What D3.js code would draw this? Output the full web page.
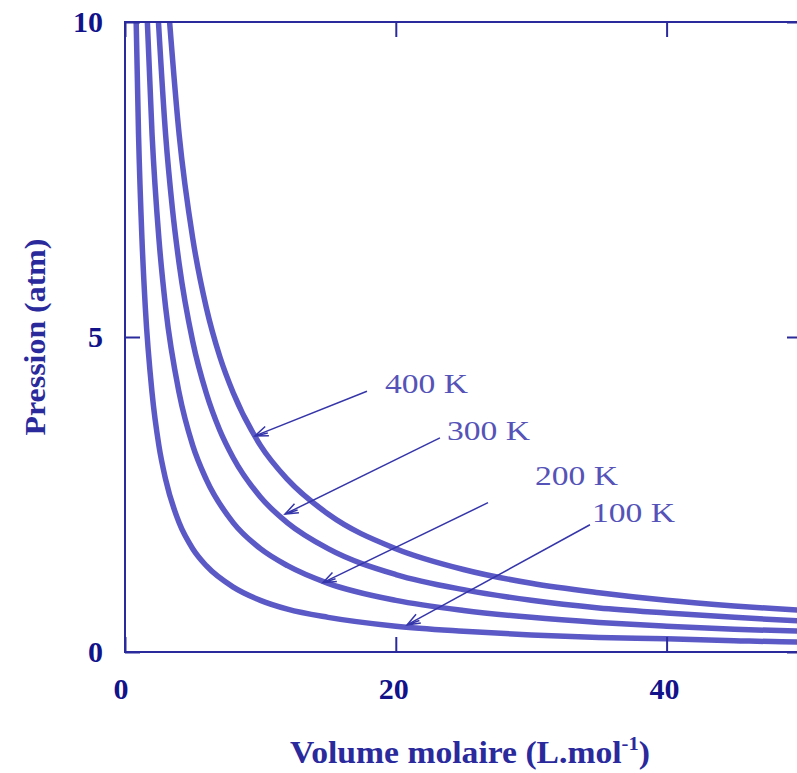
<!DOCTYPE html>
<html>
<head>
<meta charset="utf-8">
<script src="https://cdn.jsdelivr.net/npm/d3@7"></script>
<style>
  html, body { margin: 0; padding: 0; background: #fff; }
  svg { display: block; }
</style>
</head>
<body>
<svg id="chart" width="797" height="773"></svg>
<script>
// ---- Data ----
const temperatures = ["100 K", "200 K", "300 K", "400 K"];

const vol100 = [0.8, 1, 1.25, 1.5, 2, 2.5, 3, 4, 5, 6, 8, 10, 12, 15, 20, 25, 30, 35, 40, 45, 50, 52];
const pres100 = [10.26, 8.21, 6.57, 5.47, 4.11, 3.28, 2.74, 2.05, 1.64, 1.37, 1.03, 0.82, 0.68, 0.55, 0.41, 0.33, 0.27, 0.23, 0.21, 0.18, 0.16, 0.16];

const vol200 = [1.6, 2, 2.5, 3, 4, 5, 6, 8, 10, 12, 15, 20, 25, 30, 35, 40, 45, 50, 52];
const pres200 = [10.26, 8.21, 6.57, 5.47, 4.11, 3.28, 2.74, 2.05, 1.64, 1.37, 1.09, 0.82, 0.66, 0.55, 0.47, 0.41, 0.36, 0.33, 0.32];

const vol300 = [2.4, 3, 3.5, 4, 5, 6, 7, 8, 10, 12, 15, 20, 25, 30, 35, 40, 45, 50, 52];
const pres300 = [10.26, 8.21, 7.04, 6.16, 4.93, 4.11, 3.52, 3.08, 2.46, 2.05, 1.64, 1.23, 0.99, 0.82, 0.70, 0.62, 0.55, 0.49, 0.47];

const vol400 = [3.2, 4, 5, 6, 7, 8, 10, 12, 15, 20, 25, 30, 35, 40, 45, 50, 52];
const pres400 = [10.26, 8.21, 6.57, 5.47, 4.69, 4.11, 3.28, 2.74, 2.19, 1.64, 1.31, 1.09, 0.94, 0.82, 0.73, 0.66, 0.63];

const xTicks = [0, 20, 40];
const yTicks = [0, 5, 10];

// Annotation anchors in data units (V, P)
const labelNames = ["400 K", "300 K", "200 K", "100 K"];
const labelV = [19.2, 23.78, 30.28, 34.49];
const labelP = [4.11, 3.37, 2.65, 2.06];
const arrowFromV = [17.87, 23.26, 26.81, 34.34];
const arrowFromP = [4.14, 3.40, 2.37, 2.02];
const arrowToV = [9.60, 11.82, 14.62, 20.83];
const arrowToP = [3.43, 2.19, 1.10, 0.43];

// ---- Layout ----
const svg = d3.select("#chart");
const pLeft = 125, pRight = 802, pTop = 22, pBottom = 652;
const x = d3.scaleLinear().domain([0, 50]).range([pLeft, pRight]);
const y = d3.scaleLinear().domain([0, 10]).range([pBottom, pTop]);

const axisColor = "#2a2a9c";
const tickTextColor = "#12128a";
const curveColor = "#5b59c6";
const labelColor = "#5553b8";
const arrowColor = "#3535aa";

const defs = svg.append("defs");
defs.append("clipPath").attr("id", "plotclip")
  .append("rect").attr("x", pLeft).attr("y", pTop).attr("width", pRight - pLeft).attr("height", pBottom - pTop);

// Curves
const series = [
  {v: vol100, p: pres100},
  {v: vol200, p: pres200},
  {v: vol300, p: pres300},
  {v: vol400, p: pres400}
];
const line = d3.line().x(d => x(d[0])).y(d => y(d[1])).curve(d3.curveMonotoneX);
svg.append("g").attr("clip-path", "url(#plotclip)")
  .selectAll("path").data(series).join("path")
  .attr("d", s => line(s.v.map((v, i) => [v, s.p[i]])))
  .attr("fill", "none")
  .attr("stroke", curveColor)
  .attr("stroke-width", 5.5)
  .attr("stroke-linejoin", "round");

// Frame
svg.append("rect").attr("x", pLeft).attr("y", pTop).attr("width", pRight - pLeft).attr("height", pBottom - pTop)
  .attr("fill", "none").attr("stroke", axisColor).attr("stroke-width", 2);

// Axes (inner ticks)
const tickLen = 15;
const xAxisB = d3.axisBottom(x).tickValues(xTicks).tickSize(-tickLen).tickFormat("");
const xAxisT = d3.axisTop(x).tickValues(xTicks).tickSize(-tickLen).tickFormat("");
const yAxisL = d3.axisLeft(y).tickValues(yTicks).tickSize(-tickLen).tickFormat("");
const yAxisR = d3.axisRight(y).tickValues(yTicks).tickSize(-tickLen).tickFormat("");
[[xAxisB, `translate(0,${pBottom})`], [xAxisT, `translate(0,${pTop})`],
 [yAxisL, `translate(${pLeft},0)`], [yAxisR, `translate(${pRight},0)`]].forEach(([ax, tr]) => {
  const g = svg.append("g").attr("transform", tr).call(ax);
  g.select(".domain").remove();
  g.selectAll(".tick line").attr("stroke", axisColor).attr("stroke-width", 2);
});

// Tick labels
const font = "'Liberation Serif', 'Times New Roman', serif";
svg.append("g").selectAll("text").data(xTicks).join("text")
  .attr("x", d => x(d) - (d === 0 ? 4 : 2)).attr("y", 699)
  .attr("text-anchor", "middle")
  .attr("font-family", font).attr("font-size", 30).attr("font-weight", "bold").attr("fill", tickTextColor)
  .text(d => d);
svg.append("g").selectAll("text").data(yTicks).join("text")
  .attr("x", 103).attr("y", d => y(d) + 10)
  .attr("text-anchor", "end")
  .attr("font-family", font).attr("font-size", 30).attr("font-weight", "bold").attr("fill", tickTextColor)
  .text(d => d);

// Axis titles
const xt = svg.append("text").attr("x", 290).attr("y", 763)
  .attr("font-family", font).attr("font-size", 31).attr("font-weight", "bold").attr("fill", axisColor)
  .attr("textLength", 360).attr("lengthAdjust", "spacingAndGlyphs");
xt.append("tspan").text("Volume molaire (L.mol");
xt.append("tspan").attr("dy", -13).attr("font-size", 19).text("-1");
xt.append("tspan").attr("dy", 13).text(")");

svg.append("text")
  .attr("transform", `translate(45,337) rotate(-90)`)
  .attr("text-anchor", "middle")
  .attr("font-family", font).attr("font-size", 30).attr("font-weight", "bold").attr("fill", axisColor)
  .attr("textLength", 197).attr("lengthAdjust", "spacingAndGlyphs")
  .text("Pression (atm)");

// Arrows
defs.append("marker").attr("id", "arrowhead")
  .attr("viewBox", "-14 -7 16 14").attr("refX", 0).attr("refY", 0)
  .attr("markerWidth", 16).attr("markerHeight", 14)
  .attr("markerUnits", "userSpaceOnUse").attr("orient", "auto")
  .append("path").attr("d", "M-13,-5 L0,0 L-13,5 M-13,-2 L0,0")
  .attr("fill", "none").attr("stroke", arrowColor).attr("stroke-width", 1.5);

svg.append("g").selectAll("line").data(labelNames).join("line")
  .attr("x1", (d, i) => x(arrowFromV[i])).attr("y1", (d, i) => y(arrowFromP[i]))
  .attr("x2", (d, i) => x(arrowToV[i])).attr("y2", (d, i) => y(arrowToP[i]))
  .attr("stroke", arrowColor).attr("stroke-width", 1.5)
  .attr("marker-end", "url(#arrowhead)");

// Labels
svg.append("g").selectAll("text").data(labelNames).join("text")
  .attr("x", (d, i) => x(labelV[i])).attr("y", (d, i) => y(labelP[i]))
  .attr("font-family", font).attr("font-size", 28).attr("fill", labelColor)
  .attr("textLength", 83).attr("lengthAdjust", "spacingAndGlyphs")
  .text(d => d);
</script>
</body>
</html>
